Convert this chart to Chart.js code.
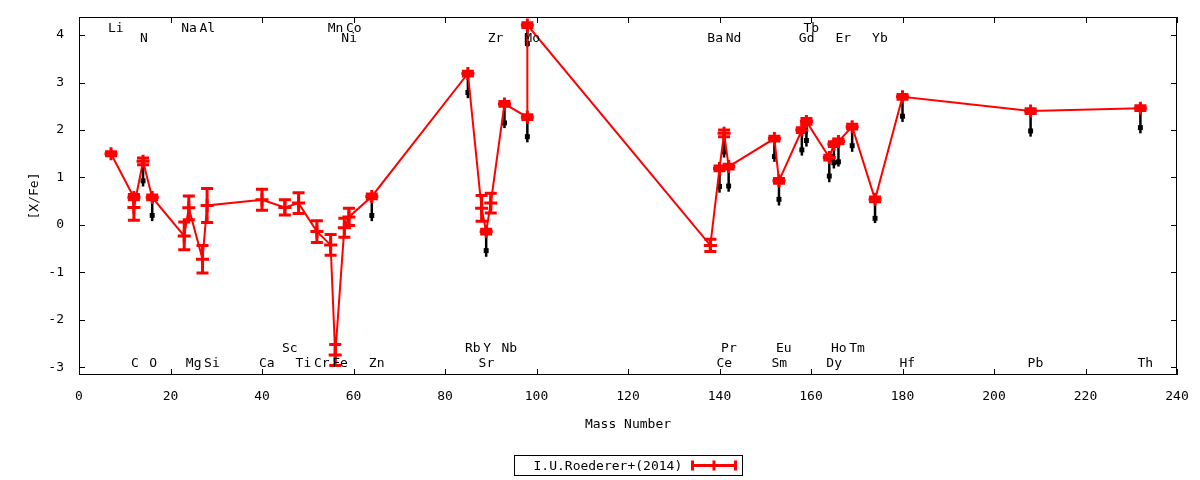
<!DOCTYPE html>
<html>
<head>
<meta charset="utf-8">
<title>[X/Fe] vs Mass Number</title>
<script src="https://cdn.jsdelivr.net/npm/chart.js@4.4.1/dist/chart.umd.min.js"></script>
<style>
  html, body { margin: 0; padding: 0; background: #fff; }
  #wrap { width: 1200px; height: 480px; }
</style>
</head>
<body>
<div id="wrap"><canvas id="chart" width="1200" height="480"></canvas></div>
<script>
// 观测值 (I.U.Roederer+ 2014)
const elements   = ['Li', 'C', 'C', 'N', 'O', 'Na', 'Mg', 'Al', 'Si', 'Ca', 'Sc', 'Ti', 'Cr', 'Mn', 'Fe', 'Ni', 'Co', 'Zn',
                    'Rb', 'Sr', 'Y', 'Zr', 'Nb', 'Mo', 'Mo', 'Ba', 'Ce', 'Pr', 'Nd', 'Sm', 'Eu', 'Gd', 'Tb', 'Dy', 'Ho',
                    'Er', 'Tm', 'Yb', 'Hf', 'Pb', 'Th'];
const massNumber = [7, 12, 12, 14, 16, 23, 24, 27, 28, 40, 45, 48, 52, 55, 56, 58, 59, 64,
                    85, 88, 89, 90, 93, 98, 98, 138, 140, 141, 142, 152, 153, 158, 159, 164, 165,
                    166, 169, 174, 180, 208, 232];
const xfe        = [1.50, 0.58, 0.37, 1.34, 0.58, -0.23, 0.36, -0.72, 0.41, 0.53, 0.37, 0.46, -0.14, -0.42, -2.74, -0.06, 0.17, 0.60,
                    3.19, 0.35, -0.14, 0.46, 2.55, 2.27, 4.21, -0.43, 1.19, 1.93, 1.23, 1.82, 0.93, 2.00, 2.18, 1.42, 1.70,
                    1.76, 2.07, 0.54, 2.70, 2.40, 2.46];
const xfeErr     = [0.04, 0.05, 0.27, 0.07, 0.05, 0.29, 0.25, 0.29, 0.36, 0.22, 0.16, 0.22, 0.23, 0.22, 0.22, 0.20, 0.18, 0.05,
                    0.05, 0.27, 0.05, 0.21, 0.05, 0.05, 0.05, 0.13, 0.05, 0.07, 0.05, 0.05, 0.05, 0.05, 0.06, 0.05, 0.05,
                    0.05, 0.05, 0.05, 0.05, 0.05, 0.05];

// 黑色下移标记 (null = 无)
const shiftValue = [null, null, null, 0.93, 0.20, null, null, null, null, null, null, null, null, null, null, null, null, 0.20,
                    2.79, null, -0.54, null, 2.15, 1.86, 3.82, null, 0.81, 1.54, 0.82, 1.44, 0.54, 1.58, 1.78, 1.03, 1.31,
                    1.33, 1.67, 0.14, 2.29, 1.98, 2.05];
const shiftLow   = [null, null, null, 0.81, 0.08, null, null, null, null, null, null, null, null, null, null, null, null, 0.08,
                    2.67, null, -0.67, null, 2.04, 1.74, 3.75, null, 0.68, 1.42, 0.70, 1.33, 0.41, 1.46, 1.65, 0.90, 1.19,
                    1.23, 1.54, 0.04, 2.17, 1.86, 1.93];

// 元素标注
const tagNames = ['Li', 'Na', 'Al', 'Mn', 'Co', 'Tb',
                  'N', 'Ni', 'Zr', 'Mo', 'Ba', 'Nd', 'Gd', 'Er', 'Yb',
                  'Sc', 'Rb', 'Y', 'Nb', 'Pr', 'Eu', 'Ho', 'Tm',
                  'C', 'O', 'Mg', 'Si', 'Ca', 'Ti', 'Cr', 'Fe', 'Zn', 'Sr', 'Ce', 'Sm', 'Dy', 'Hf', 'Pb', 'Th'];
const tagMass  = [7, 23, 27, 55, 59, 159,
                  14, 58, 90, 98, 138, 142, 158, 166, 174,
                  45, 85, 89, 93, 141, 153, 165, 169,
                  12, 16, 24, 28, 40, 48, 52, 56, 64, 88, 140, 152, 164, 180, 208, 232];
const tagRow   = [0, 0, 0, 0, 0, 0,
                  1, 1, 1, 1, 1, 1, 1, 1, 1,
                  2, 2, 2, 2, 2, 2, 2, 2,
                  3, 3, 3, 3, 3, 3, 3, 3, 3, 3, 3, 3, 3, 3, 3, 3];
const tagRowY  = [4.14, 3.93, -2.61, -2.93];

const seriesName = 'I.U.Roederer+(2014)';
const FONT_FAMILY = 'DejaVu Sans Mono';
const FONT = '13px "DejaVu Sans Mono", monospace';

// 误差棒、标注、边框、图例
const overlayPlugin = {
    id: 'overlay',
    beforeDatasetsDraw(chart) {
        const { ctx, scales: { x, y } } = chart;
        ctx.save();
        ctx.lineCap = 'butt';

        // 红色误差棒
        ctx.strokeStyle = '#ff0000';
        ctx.lineWidth = 3;
        massNumber.forEach((m, i) => {
            const px = x.getPixelForValue(m);
            const top = y.getPixelForValue(xfe[i] + xfeErr[i]);
            const bot = y.getPixelForValue(xfe[i] - xfeErr[i]);
            ctx.beginPath();
            ctx.moveTo(px, top); ctx.lineTo(px, bot);
            ctx.moveTo(px - 6, top); ctx.lineTo(px + 6, top);
            ctx.moveTo(px - 6, bot); ctx.lineTo(px + 6, bot);
            ctx.stroke();
        });

        // 黑色竖线
        ctx.strokeStyle = '#000';
        ctx.lineWidth = 2.5;
        massNumber.forEach((m, i) => {
            if (shiftValue[i] === null) return;
            const px = x.getPixelForValue(m);
            ctx.beginPath();
            ctx.moveTo(px, y.getPixelForValue(shiftLow[i]));
            ctx.lineTo(px, y.getPixelForValue(xfe[i]));
            ctx.stroke();
        });
        ctx.restore();
    },
    afterDraw(chart) {
        const { ctx, chartArea: a, scales: { x, y } } = chart;
        ctx.save();

        // 边框与内向刻度
        ctx.strokeStyle = '#000';
        ctx.lineWidth = 1;
        ctx.strokeRect(a.left + 0.5, a.top + 0.5, a.right - a.left - 1, a.bottom - a.top - 1);
        ctx.beginPath();
        x.ticks.forEach(t => {
            const px = Math.round(x.getPixelForValue(t.value)) + 0.5;
            ctx.moveTo(px, a.bottom); ctx.lineTo(px, a.bottom - 6);
            ctx.moveTo(px, a.top); ctx.lineTo(px, a.top + 6);
        });
        y.ticks.forEach(t => {
            const py = Math.round(y.getPixelForValue(t.value)) + 0.5;
            ctx.moveTo(a.left, py); ctx.lineTo(a.left + 6, py);
            ctx.moveTo(a.right, py); ctx.lineTo(a.right - 6, py);
        });
        ctx.stroke();

        // 元素名
        ctx.fillStyle = '#000';
        ctx.font = FONT;
        ctx.textAlign = 'left';
        ctx.textBaseline = 'middle';
        tagNames.forEach((name, i) => {
            ctx.fillText(name, x.getPixelForValue(tagMass[i]) - 3, y.getPixelForValue(tagRowY[tagRow[i]]));
        });

        // 图例
        const cx = (a.left + a.right) / 2;
        const bw = 228, bh = 20, by = 455.5;
        const bx = Math.round(cx - bw / 2) + 0.5;
        ctx.lineWidth = 1;
        ctx.strokeRect(bx, by, bw, bh);
        ctx.fillText(seriesName, bx + 19, by + bh / 2 + 1);
        const sx0 = bx + 178, sx1 = bx + 221, sy = by + bh / 2;
        ctx.strokeStyle = '#ff0000';
        ctx.lineWidth = 3;
        ctx.beginPath();
        ctx.moveTo(sx0, sy); ctx.lineTo(sx1, sy);
        [sx0, (sx0 + sx1) / 2, sx1].forEach(sx => {
            ctx.moveTo(sx, sy - 5); ctx.lineTo(sx, sy + 5);
        });
        ctx.stroke();
        ctx.restore();
    }
};

const redPoints = massNumber.map((m, i) => ({ x: m, y: xfe[i] }));
const blackPoints = massNumber
    .map((m, i) => ({ x: m, y: shiftValue[i] }))
    .filter(p => p.y !== null);

new Chart(document.getElementById('chart').getContext('2d'), {
    type: 'scatter',
    data: {
        datasets: [{
            label: seriesName,
            data: redPoints,
            showLine: true,
            borderColor: '#ff0000',
            backgroundColor: '#ff0000',
            borderWidth: 2,
            pointStyle: 'cross',
            pointRadius: 6.5,
            pointBorderWidth: 3,
            pointHoverRadius: 6.5,
            order: 0
        }, {
            label: 'shift',
            data: blackPoints,
            showLine: false,
            borderColor: '#000',
            backgroundColor: '#000',
            pointStyle: 'rect',
            pointRadius: 3.5,
            pointBorderWidth: 0,
            order: 1
        }]
    },
    options: {
        responsive: false,
        animation: false,
        devicePixelRatio: 1,
        layout: { padding: { left: 0, top: 17, right: 23, bottom: 45 } },
        plugins: {
            legend: { display: false },
            tooltip: { enabled: false }
        },
        scales: {
            x: {
                type: 'linear',
                min: 0,
                max: 240,
                grid: { display: false, drawTicks: false },
                border: { display: false },
                ticks: { stepSize: 20, includeBounds: false, color: '#000', padding: 14, font: { family: FONT_FAMILY, size: 13 } },
                title: { display: true, text: 'Mass Number', color: '#000', padding: { top: 0, bottom: 3 }, font: { family: FONT_FAMILY, size: 13 } },
                afterFit(scale) {
                    scale.height = 60;
                    scale.paddingLeft = 0;
                    scale.paddingRight = 0;
                }
            },
            y: {
                type: 'linear',
                min: -3.16,
                max: 4.38,
                grid: { display: false, drawTicks: false },
                border: { display: false },
                ticks: { stepSize: 1, includeBounds: false, color: '#000', padding: 15, font: { family: FONT_FAMILY, size: 13 } },
                title: { display: true, text: '[X/Fe]', color: '#000', padding: { top: 27, bottom: 0 }, font: { family: FONT_FAMILY, size: 13 } },
                afterFit(scale) {
                    scale.width = 79;
                    scale.paddingTop = 0;
                    scale.paddingBottom = 0;
                }
            }
        }
    },
    plugins: [overlayPlugin]
});
</script>
</body>
</html>
